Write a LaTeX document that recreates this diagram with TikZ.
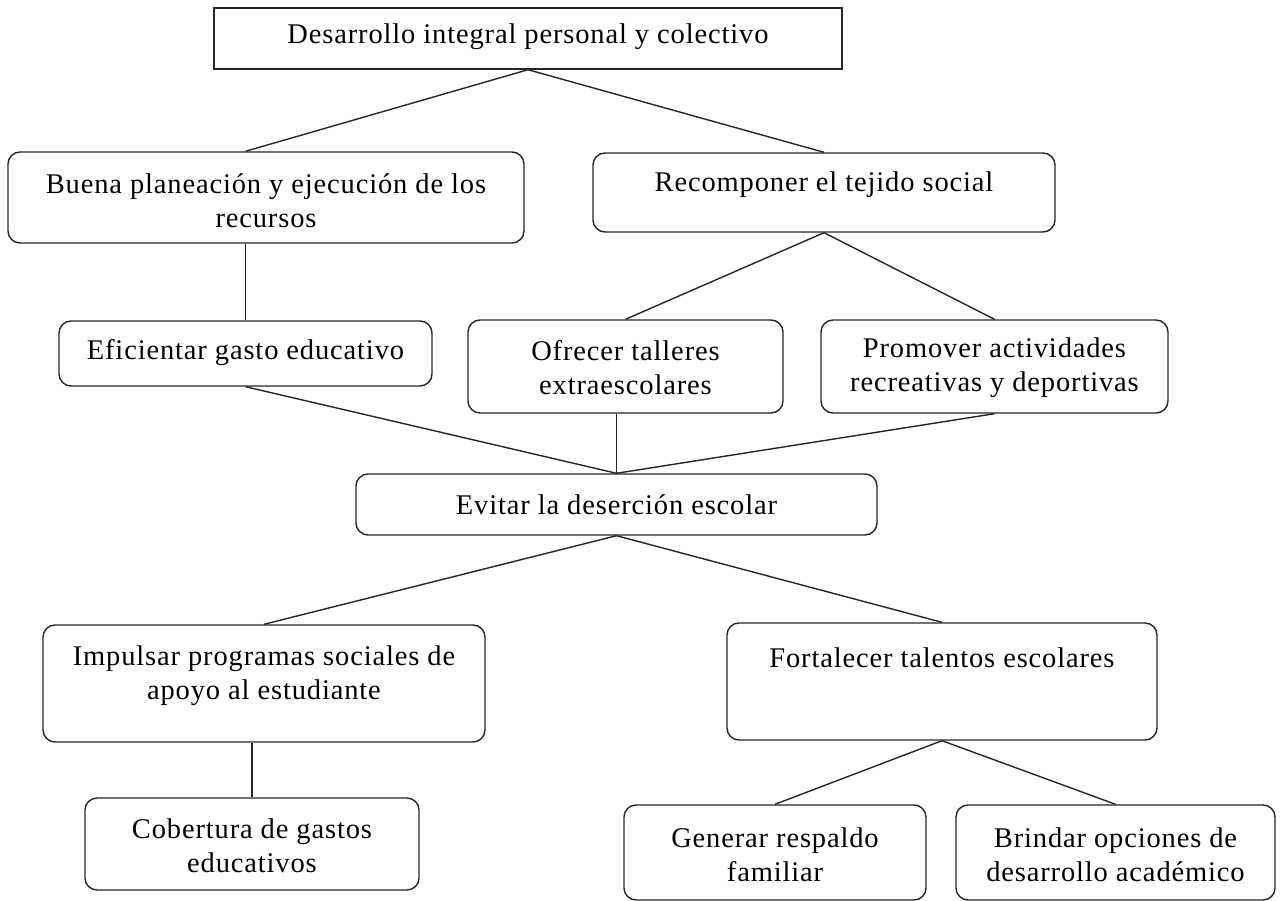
\documentclass[tikz,border=0pt]{standalone}
\usepackage{fontspec}
\setmainfont[LetterSpace=3]{Liberation Serif}
\begin{document}
\begin{tikzpicture}[x=1pt,y=-1pt,
  box/.style={draw=black!85, line width=1.4pt, rounded corners=12pt, inner sep=0pt},
  sqbox/.style={draw=black!85, line width=1.4pt, inner sep=0pt},
  txt/.style={align=center, inner sep=0pt, font=\fontsize{28.5}{34}\selectfont},
  link/.style={draw=black!85, line width=1.4pt}]
\useasboundingbox (0,0) rectangle (1280,901);
% boxes
\node[sqbox, minimum width=628pt, minimum height=61pt] (top) at (528,38.5) {};
\node[box, minimum width=516pt, minimum height=91pt] (buena) at (266,197.5) {};
\node[box, minimum width=462pt, minimum height=79pt] (recom) at (824,192.5) {};
\node[box, minimum width=373pt, minimum height=65pt] (efi) at (245.5,353.5) {};
\node[box, minimum width=315pt, minimum height=93pt] (ofre) at (625.5,366.5) {};
\node[box, minimum width=347pt, minimum height=93pt] (promo) at (994.5,366.5) {};
\node[box, minimum width=521pt, minimum height=61pt] (evitar) at (616.5,504.5) {};
\node[box, minimum width=442pt, minimum height=117pt] (impul) at (264,683.5) {};
\node[box, minimum width=430pt, minimum height=117pt] (forta) at (942,681.5) {};
\node[box, minimum width=334pt, minimum height=92pt] (cober) at (252,844) {};
\node[box, minimum width=302pt, minimum height=95pt] (gene) at (775,852.5) {};
\node[box, minimum width=319pt, minimum height=95pt] (brin) at (1115.5,852.5) {};
% texts
\node[txt] (top-t) at (528,37) {Desarrollo integral personal y colectivo};
\node[txt] (buena-t) at (266,201) {Buena planeación y ejecución de los\\recursos};
\node[txt] (recom-t) at (824,185) {Recomponer el tejido social};
\node[txt] (efi-t) at (245.5,353) {Eficientar gasto educativo};
\node[txt] (ofre-t) at (625.5,368) {Ofrecer talleres\\extraescolares};
\node[txt] (promo-t) at (994.5,368) {Promover actividades\\recreativas y deportivas};
\node[txt] (evitar-t) at (616.5,505) {Evitar la deserción escolar};
\node[txt] (impul-t) at (264,676) {Impulsar programas sociales de\\apoyo al estudiante};
\node[txt] (forta-t) at (942,658) {Fortalecer talentos escolares};
\node[txt] (cober-t) at (252,846) {Cobertura de gastos\\educativos};
\node[txt] (gene-t) at (775,855) {Generar respaldo\\familiar};
\node[txt] (brin-t) at (1115.5,855) {Brindar opciones de\\desarrollo académico};
% connectors
\draw[link] (top.south) -- (buena.north -| efi.north);
\draw[link] (top.south) -- (recom.north);
\draw[link] (buena.south -| efi.north) -- (efi.north);
\draw[link] (recom.south) -- (ofre.north);
\draw[link] (recom.south) -- (promo.north);
\draw[link] (efi.south) -- (evitar.north);
\draw[link] (ofre.south -| evitar.north) -- (evitar.north);
\draw[link] (promo.south) -- (evitar.north);
\draw[link] (evitar.south) -- (impul.north);
\draw[link] (evitar.south) -- (forta.north);
\draw[link] (impul.south -| cober.north) -- (cober.north);
\draw[link] (forta.south) -- (gene.north);
\draw[link] (forta.south) -- (brin.north);
\end{tikzpicture}
\end{document}
